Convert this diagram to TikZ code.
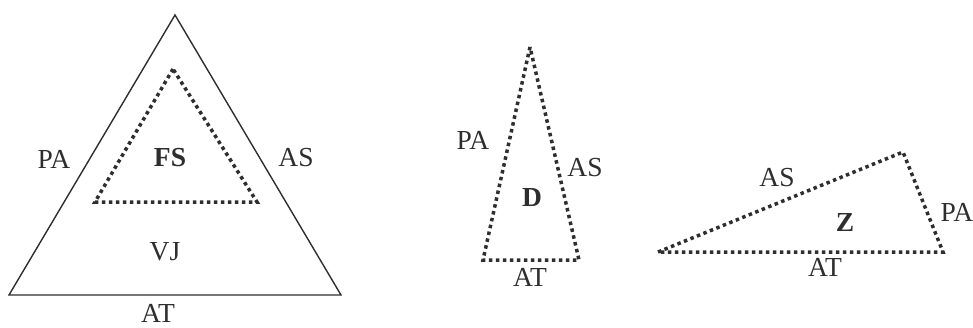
\documentclass[tikz,border=0pt]{standalone}
\usepackage{fontspec}
\setmainfont{Liberation Serif}
\definecolor{ink}{HTML}{2E2E2E}
\tikzset{
  solidtri/.style={draw=ink, line width=1.4pt, line join=miter},
  dottri/.style={draw=ink, line width=3.5pt, dash pattern=on 3.5pt off 3.5pt, line join=miter},
  lbl/.style={text=ink, font=\fontsize{27.5}{30}\selectfont, inner sep=0pt},
  blbl/.style={lbl, font=\fontsize{27.5}{30}\selectfont\bfseries}
}
\begin{document}
\begin{tikzpicture}[x=1pt,y=-1pt]
\useasboundingbox (0,0) rectangle (973,327);
% big triangle
\coordinate (A1) at (175,15);
\coordinate (B1) at (9,295);
\coordinate (C1) at (341,295);
\draw[solidtri] (A1) -- (B1) -- (C1) -- cycle;
% inner dotted triangle
\coordinate (A2) at (173,69);
\coordinate (B2) at (95,202);
\coordinate (C2) at (257,202);
\draw[dottri] (A2) -- (B2) -- (C2) -- cycle;
\node[lbl] (pa1) at (54,159) {PA};
\node[blbl] (fs) at (170,158) {FS};
\node[lbl] (as1) at (296,158) {AS};
\node[lbl] (vj) at (165,252) {VJ};
\node[lbl] (at1) at (158,313) {AT};
% D triangle
\coordinate (A3) at (530,47);
\coordinate (B3) at (483,260);
\coordinate (C3) at (579,260);
\draw[dottri] (A3) -- (B3) -- (C3) -- cycle;
\node[lbl] (pa2) at (473,140) {PA};
\node[lbl] (as2) at (585,168) {AS};
\node[blbl] (d) at (532,198) {D};
\node[lbl] (at2) at (530,277) {AT};
% Z triangle
\coordinate (A4) at (658,252);
\coordinate (B4) at (903,152);
\coordinate (C4) at (943,252);
\draw[dottri] (A4) -- (B4) -- (C4) -- cycle;
\node[lbl] (as3) at (777,178) {AS};
\node[blbl] (z) at (845,222) {Z};
\node[lbl] (pa3) at (957,212) {PA};
\node[lbl] (at3) at (825,267) {AT};
\end{tikzpicture}
\end{document}
